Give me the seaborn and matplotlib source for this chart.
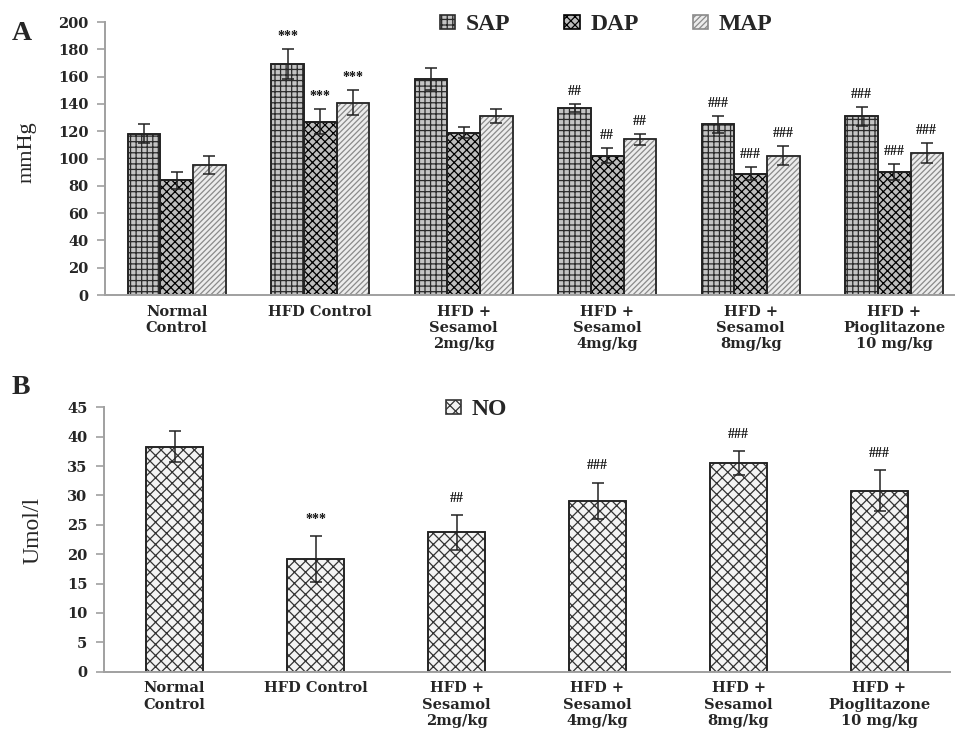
import numpy as np
import pandas as pd
import seaborn as sns
import matplotlib.pyplot as plt
from matplotlib.patches import Rectangle

# groups (shared by both panels)
groups = ['Normal\nControl', 'HFD Control', 'HFD +\nSesamol\n2mg/kg',
          'HFD +\nSesamol\n4mg/kg', 'HFD +\nSesamol\n8mg/kg', 'HFD +\nPioglitazone\n10 mg/kg']

# panel A: blood pressure (mmHg)
measures = ['SAP', 'DAP', 'MAP']
sap = [118, 169, 158, 137, 125, 131]
sap_err = [7, 11, 8, 3, 6, 7]
dap = [84, 127, 119, 102, 89, 90]
dap_err = [6, 9, 4, 5.5, 5, 6]
map_vals = [95, 141, 131, 114, 102, 104]
map_err = [6.5, 9, 5, 4, 7, 7]
bp_marks = ['', '***', '', '##', '###', '###']

# panel B: nitric oxide (Umol/l)
no_vals = [38.3, 19.2, 23.7, 29.1, 35.5, 30.8]
no_err = [2.6, 3.9, 3.0, 3.1, 2.1, 3.5]
no_marks = ['', '***', '##', '###', '###', '###']

AXIS_GREY = '#a0a0a0'
EDGE = '#222222'
TICK_FONT = ['DejaVu Serif']

sns.set_style('white')
plt.rcParams['font.family'] = ['Liberation Serif', 'DejaVu Serif']
plt.rcParams['hatch.linewidth'] = 0.9


def style_bars(ax, container, face, hatch, hatch_col):
    """ Give the bars of one series a hatch, keeping a dark outline. """
    for bar in container:
        bar.set_facecolor(face)
        bar.set_hatch(hatch)
        if hasattr(bar, 'set_hatchcolor'):
            bar.set_hatchcolor(hatch_col)
            bar.set_edgecolor(EDGE)
        else:
            bar.set_edgecolor(hatch_col)
            ax.add_patch(Rectangle(bar.get_xy(), bar.get_width(), bar.get_height(),
                                   fill=False, edgecolor=EDGE, linewidth=1.2, zorder=bar.get_zorder() + 0.1))


def add_errors(ax, container, vals, errs, marks, offset, mark_size):
    xs = [b.get_x() + b.get_width() / 2 for b in container]
    ax.errorbar(xs, vals, yerr=errs, fmt='none', ecolor=EDGE, elinewidth=1.1, capsize=4, capthick=1.1, zorder=5)
    for x, v, e, m in zip(xs, vals, errs, marks):
        if m:
            ax.annotate(m, (x, v + e), xytext=(0, offset), textcoords='offset points',
                        ha='center', va='center', fontsize=mark_size, fontweight='bold', color='#111111')


def style_axis(ax, yticks):
    ax.set_yticks(yticks)
    ax.set_xticks(range(len(groups)))
    ax.set_xticklabels(groups, fontweight='bold', fontsize=10.5, linespacing=1.2, family=TICK_FONT)
    ax.set_yticklabels([str(t) for t in yticks], fontweight='bold', fontsize=10.5, family=TICK_FONT)
    ax.set_xticks(np.arange(-0.5, len(groups), 1), minor=True)
    ax.tick_params(axis='x', which='major', length=0, pad=7)
    ax.tick_params(axis='x', which='minor', length=5, width=1.2, color=AXIS_GREY, direction='out')
    ax.tick_params(axis='y', length=6, width=1.2, color=AXIS_GREY, direction='out', pad=6, left=True)
    ax.set_xlim(-0.5, len(groups) - 0.5)
    ax.set_xlabel('')
    for side in ['top', 'right']:
        ax.spines[side].set_visible(False)
    for side in ['left', 'bottom']:
        ax.spines[side].set_color(AXIS_GREY)
        ax.spines[side].set_linewidth(1.4)


fig = plt.figure(figsize=(9.55, 7.3), dpi=100)
ax_a = fig.add_axes([105 / 955, 1 - 295 / 730, 861 / 955, 273 / 730])
ax_b = fig.add_axes([104 / 955, 1 - 671.7 / 730, 846 / 955, 264.4 / 730])

# ---- panel A ----
bp = pd.DataFrame({'group': groups * 3,
                   'measure': np.repeat(measures, len(groups)),
                   'value': sap + dap + map_vals})
sns.barplot(data=bp, x='group', y='value', hue='measure', ax=ax_a, errorbar=None, legend=False,
            palette=['#ffffff', '#ffffff', '#eeeeee'], saturation=1, width=0.68,
            edgecolor=EDGE, linewidth=1.2)
ax_a.set_ylim(0, 200)
bars_a = list(ax_a.containers)
style_bars(ax_a, bars_a[0], '#c4c4c4', '+++', '#2a2a2a')
style_bars(ax_a, bars_a[1], '#bdbdbd', 'xxxx', '#000000')
style_bars(ax_a, bars_a[2], '#ececec', '//////', '#8a8a8a')
ax_a.legend(handles=bars_a, labels=measures, ncol=3, loc='center', bbox_to_anchor=(0.582, 0.99),
            frameon=False, prop={'weight': 'bold', 'size': 17}, handlelength=0.65, handleheight=0.5,
            handletextpad=0.45, columnspacing=2.3)
add_errors(ax_a, bars_a[0], sap, sap_err, bp_marks, 9, 10)
add_errors(ax_a, bars_a[1], dap, dap_err, bp_marks, 9, 10)
add_errors(ax_a, bars_a[2], map_vals, map_err, bp_marks, 9, 10)
style_axis(ax_a, list(range(0, 201, 20)))
ax_a.set_ylabel('mmHg', fontsize=16)
ax_a.yaxis.set_label_coords(-0.079, 0.524)

# ---- panel B ----
no = pd.DataFrame({'group': groups, 'value': no_vals})
sns.barplot(data=no, x='group', y='value', ax=ax_b, errorbar=None, color='#ffffff', saturation=1,
            width=0.41, edgecolor=EDGE, linewidth=1.2)
ax_b.set_ylim(0, 45)
bars_b = ax_b.containers[0]
style_bars(ax_b, bars_b, '#f4f4f4', 'xxx', '#333333')
ax_b.legend(handles=[bars_b], labels=['NO'], loc='center', bbox_to_anchor=(0.44, 0.99),
            frameon=False, prop={'weight': 'bold', 'size': 17}, handlelength=0.65, handleheight=0.5,
            handletextpad=0.45)
add_errors(ax_b, bars_b, no_vals, no_err, no_marks, 12, 10)
style_axis(ax_b, list(range(0, 46, 5)))
ax_b.set_ylabel('Umol/l', fontsize=17)
ax_b.yaxis.set_label_coords(-0.072, 0.536)

# panel letters
fig.text(12 / 955, 1 - 33 / 730, 'A', fontsize=20, fontweight='bold', va='center', ha='left')
fig.text(12 / 955, 1 - 387 / 730, 'B', fontsize=20, fontweight='bold', va='center', ha='left')

fig.savefig('out.png', dpi=100)
